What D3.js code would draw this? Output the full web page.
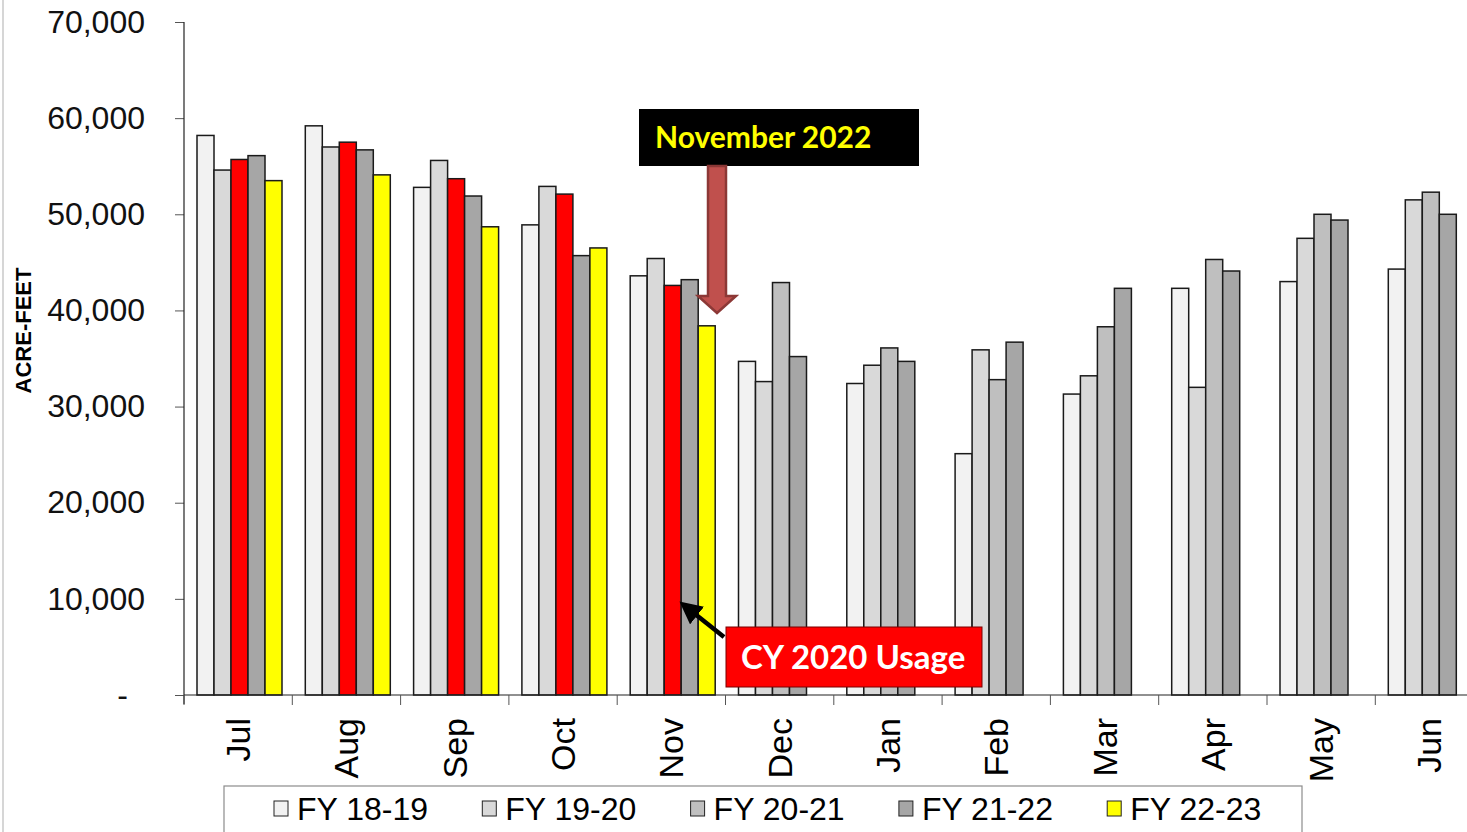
<!DOCTYPE html>
<html>
<head>
<meta charset="utf-8">
<script src="https://cdn.jsdelivr.net/npm/d3@7"></script>
<style>
  body { margin: 0; background: #fff; }
  svg { display: block; }
  text { font-family: "Liberation Sans", Arial, sans-serif; }
</style>
</head>
<body>
<div id="chart"></div>
<script>

//
// data
//
var months = ["Jul", "Aug", "Sep", "Oct", "Nov", "Dec", "Jan", "Feb", "Mar", "Apr", "May", "Jun"];
var seriesNames = ["FY 18-19", "FY 19-20", "FY 20-21", "FY 21-22", "FY 22-23"];
var fy1819 = [58200, 59200, 52800, 48900, 43600, 34700, 32400, 25100, 31300, 42300, 43000, 44300];
var fy1920 = [54600, 57000, 55600, 52900, 45400, 32600, 34300, 35900, 33200, 32000, 47500, 51500];
var fy2021 = [55700, 57500, 53700, 52100, 42600, 42900, 36100, 32800, 38300, 45300, 50000, 52300];
var fy2122 = [56100, 56700, 51900, 45700, 43200, 35200, 34700, 36700, 42300, 44100, 49400, 50000];
var fy2223 = [53500, 54100, 48700, 46500, 38400];
var yTicks = [0, 10000, 20000, 30000, 40000, 50000, 60000, 70000];
// months drawn red for FY 20-21 (CY 2020 usage)
var cy2020Months = ["Jul", "Aug", "Sep", "Oct", "Nov"];

var seriesColors = ["#F2F2F2", "#D9D9D9", "#BFBFBF", "#A6A6A6", "#FFFF00"];
var highlightColor = "#FF0000";

var allSeries = [fy1819, fy1920, fy2021, fy2122, fy2223];

//
// setup
//
var width = 1467,
    height = 832;

var svg = d3.select("#chart")
    .append("svg")
    .attr("width", width)
    .attr("height", height);

var plotLeft = 184,
    plotTop = 22,
    plotBottom = 695,
    bandW = 108.3;

var x = d3.scaleBand()
    .domain(months)
    .range([plotLeft, plotLeft + bandW * months.length])
    .padding(0);

var x1 = d3.scaleBand()
    .domain(seriesNames)
    .range([13, 98])
    .padding(0);

var y = d3.scaleLinear()
    .domain([0, 70000])
    .range([plotBottom, plotTop]);

// faint frame line on the left
svg.append("line")
  .attr("x1", 3).attr("x2", 3)
  .attr("y1", 0).attr("y2", height)
  .attr("stroke", "#c8c8c8")
  .attr("stroke-width", 1.5);

//
// bars
//
var barData = [];
months.forEach(function(m, i) {
  seriesNames.forEach(function(s, j) {
    var v = allSeries[j][i];
    if (v === undefined) return;
    var color = seriesColors[j];
    if (j === 2 && cy2020Months.indexOf(m) >= 0) color = highlightColor;
    barData.push({ month: m, series: s, value: v, color: color });
  });
});

svg.append("g")
  .selectAll("rect")
  .data(barData)
  .enter()
  .append("rect")
  .attr("x", function(d) { return x(d.month) + x1(d.series); })
  .attr("y", function(d) { return y(d.value); })
  .attr("width", x1.bandwidth())
  .attr("height", function(d) { return y(0) - y(d.value); })
  .attr("fill", function(d) { return d.color; })
  .attr("stroke", "#1a1a1a")
  .attr("stroke-width", 1.5);

//
// y axis
//
var yAxis = d3.axisLeft(y)
    .tickValues(yTicks)
    .tickSize(9)
    .tickPadding(30)
    .tickFormat(function(d) { return d === 0 ? "-" : d3.format(",")(d); });

var gy = svg.append("g")
  .attr("transform", "translate(" + plotLeft + ",0)")
  .call(yAxis);
gy.select(".domain").remove();
gy.selectAll(".tick line").attr("stroke", "#555");
gy.selectAll(".tick text")
  .style("font-size", "32px")
  .style("fill", "#111")
  .attr("dx", function(d) { return d === 0 ? -17 : 0; });

svg.append("line")
  .attr("x1", plotLeft).attr("x2", plotLeft)
  .attr("y1", plotTop).attr("y2", plotBottom + 9)
  .attr("stroke", "#222")
  .attr("stroke-width", 1.2);

svg.append("text")
  .attr("transform", "translate(31," + ((plotTop + plotBottom) / 2 - 28) + ") rotate(-90)")
  .attr("text-anchor", "middle")
  .style("font-size", "22px")
  .style("font-weight", "bold")
  .style("fill", "#000")
  .text("ACRE-FEET");

//
// x axis
//
svg.append("line")
  .attr("x1", plotLeft).attr("x2", width)
  .attr("y1", plotBottom).attr("y2", plotBottom)
  .attr("stroke", "#222")
  .attr("stroke-width", 1.2);

svg.append("g")
  .selectAll("line")
  .data(months)
  .enter()
  .append("line")
  .attr("x1", function(d) { return x(d); })
  .attr("x2", function(d) { return x(d); })
  .attr("y1", plotBottom)
  .attr("y2", plotBottom + 10)
  .attr("stroke", "#555");

svg.append("g")
  .selectAll("text")
  .data(months)
  .enter()
  .append("text")
  .attr("transform", function(d) {
    return "translate(" + (x(d) + x.bandwidth() / 2 + 12) + ",718) rotate(-90)";
  })
  .attr("text-anchor", "end")
  .style("font-size", "34px")
  .style("fill", "#000")
  .text(function(d) { return d; });

//
// legend
//
var legend = svg.append("g");
legend.append("rect")
  .attr("x", 224).attr("y", 786)
  .attr("width", 1078).attr("height", 60)
  .attr("fill", "#fff")
  .attr("stroke", "#8c8c8c")
  .attr("stroke-width", 1.2);

var items = legend.selectAll("g.item")
  .data(seriesNames)
  .enter()
  .append("g")
  .attr("class", "item")
  .attr("transform", function(d, i) { return "translate(" + (274 + i * 208.3) + ",0)"; });

items.append("rect")
  .attr("x", 0).attr("y", 801)
  .attr("width", 14).attr("height", 15)
  .attr("fill", function(d, i) { return seriesColors[i]; })
  .attr("stroke", "#222")
  .attr("stroke-width", 1);

items.append("text")
  .attr("x", 23).attr("y", 820)
  .style("font-size", "32px")
  .style("fill", "#000")
  .text(function(d) { return d; });

//
// annotations
//
// November 2022 box and arrow
svg.append("rect")
  .attr("x", 639).attr("y", 109)
  .attr("width", 280).attr("height", 57)
  .attr("fill", "#000");
svg.append("text")
  .attr("x", 655).attr("y", 148)
  .style("font-family", "Lato, 'Open Sans', sans-serif")
  .style("font-weight", "bold")
  .style("font-size", "30px")
  .style("fill", "#FFFF00")
  .text("November 2022");

svg.append("path")
  .attr("d", "M708,166 L726,166 L726,296 L736,296 L717,313 L698,296 L708,296 Z")
  .attr("fill", "#C0504D")
  .attr("stroke", "#8C3836")
  .attr("stroke-width", 2.5)
  .attr("stroke-linejoin", "miter");

// CY 2020 Usage box and arrow
svg.append("defs").append("marker")
  .attr("id", "head")
  .attr("markerWidth", 5)
  .attr("markerHeight", 5)
  .attr("refX", 2)
  .attr("refY", 2.5)
  .attr("orient", "auto")
  .attr("markerUnits", "strokeWidth")
  .append("path")
  .attr("d", "M0,0 L5,2.5 L0,5 Z")
  .attr("fill", "#000");

svg.append("line")
  .attr("x1", 724).attr("y1", 637)
  .attr("x2", 690).attr("y2", 610)
  .attr("stroke", "#000")
  .attr("stroke-width", 4.5)
  .attr("marker-end", "url(#head)");

svg.append("rect")
  .attr("x", 726).attr("y", 627)
  .attr("width", 256).attr("height", 60)
  .attr("fill", "#FF0000")
  .attr("stroke", "#7a0000")
  .attr("stroke-width", 1);
svg.append("text")
  .attr("x", 741).attr("y", 669)
  .style("font-family", "Lato, 'Open Sans', sans-serif")
  .style("font-weight", "bold")
  .style("font-size", "33px")
  .style("fill", "#fff")
  .text("CY 2020 Usage");

</script>
</body>
</html>
